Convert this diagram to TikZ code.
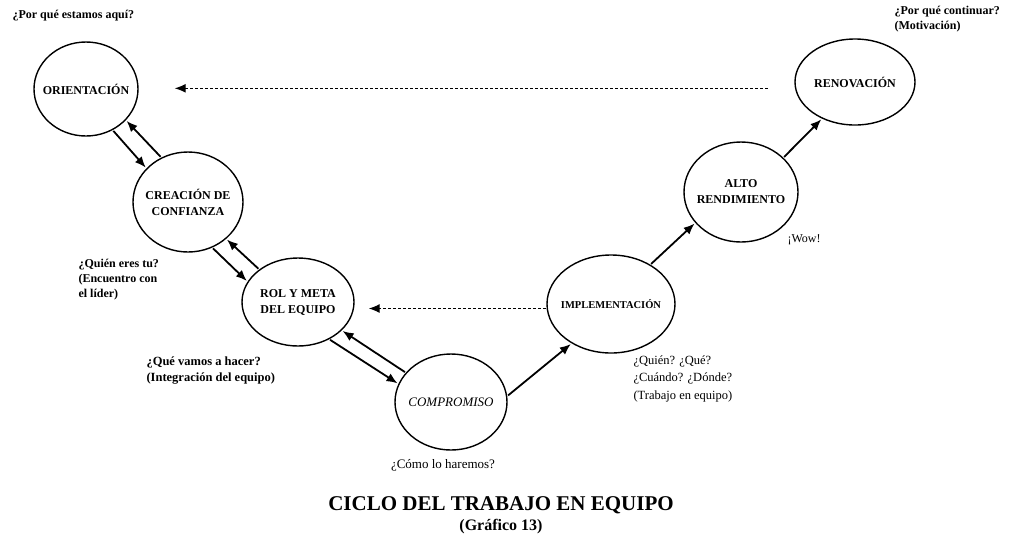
\documentclass[tikz,border=0pt]{standalone}
\usepackage{fontspec}
\setmainfont{Liberation Serif}
\usetikzlibrary{shapes.geometric,arrows.meta}

\begin{document}
\begin{tikzpicture}[x=1pt,y=-1pt,
  etapa/.style={draw,ellipse,line width=1.4pt,inner xsep=-30pt,inner ysep=0pt,align=center,font=\fontsize{12}{16}\selectfont\bfseries},
  flecha/.style={line width=1.8pt,-{Latex[length=11pt,width=9pt]},shorten <=1pt,shorten >=1pt},
  punteada/.style={flecha,densely dashed,line width=1.2pt},
  nota/.style={align=left,font=\fontsize{12}{15}\selectfont\bfseries}]
\useasboundingbox (0,0) rectangle (1012,547);
\node[etapa,minimum width=104pt,minimum height=94pt] (ori) at (86,89) {ORIENTACIÓN};
\node[etapa,minimum width=110pt,minimum height=100pt] (cre) at (188,202) {CREACIÓN DE\\CONFIANZA};
\node[etapa,minimum width=112pt,minimum height=88pt] (rol) at (298,302) {ROL Y META\\DEL EQUIPO};
\node[etapa,minimum width=112pt,minimum height=96pt,font=\fontsize{13}{16}\selectfont\itshape] (com) at (451,402) {COMPROMISO};
\node[etapa,minimum width=128pt,minimum height=98pt,font=\fontsize{10.5}{13}\selectfont\bfseries] (imp) at (611,304) {IMPLEMENTACIÓN};
\node[etapa,minimum width=114pt,minimum height=100pt] (alto) at (741,192) {ALTO\\RENDIMIENTO};
\node[etapa,minimum width=120pt,minimum height=86pt] (ren) at (855,82) {RENOVACIÓN};
\draw[flecha] (ori.-57) -- (cre.141);
\draw[flecha] (cre.121) -- (ori.-38);
\draw[flecha] (cre.-62) -- (rol.158);
\draw[flecha] (rol.140) -- (cre.-44);
\draw[flecha] (rol.-50) -- (com.161);
\draw[flecha] (com.147) -- (rol.-33);
\draw[flecha] (com.6) -- (imp.-135);
\draw[flecha] (imp.45) -- (alto.-146);
\draw[flecha] (alto.39) -- (ren.-132);
\draw[punteada,shorten <=27pt,shorten >=36pt] (ren.186) -- (ren.186 -| ori.east);
\draw[punteada,shorten >=14pt] (imp.184) -- (imp.184 -| rol.east);
\node[nota,anchor=west] (q1) at (9,16) {¿Por qué estamos aquí?};
\node[nota,anchor=north west] (q2) at (75,256) {¿Quién eres tu?\\(Encuentro con\\el líder)};
\node[nota,anchor=north west,font=\fontsize{12.5}{16}\selectfont\bfseries] (q3) at (143,353) {¿Qué vamos a hacer?\\(Integración del equipo)};
\node[font=\fontsize{13}{15}\selectfont] (q4) at (443,465) {¿Cómo lo haremos?};
\node[anchor=north west,align=left,font=\fontsize{12.5}{17.5}\selectfont] (q5) at (630,352) {¿Quién? ¿Qué?\\¿Cuándo? ¿Dónde?\\(Trabajo en equipo)};
\node[font=\fontsize{12}{14}\selectfont,anchor=west] (q6) at (784,240) {¡Wow!};
\node[nota,anchor=north west] (q7) at (891,3) {¿Por qué continuar?\\(Motivación)};
\node[font=\fontsize{21}{24}\selectfont\bfseries] (tit) at (501,505) {CICLO DEL TRABAJO EN EQUIPO};
\node[font=\fontsize{16}{18}\selectfont\bfseries] (graf) at (501,527) {(Gráfico 13)};
\end{tikzpicture}
\end{document}
